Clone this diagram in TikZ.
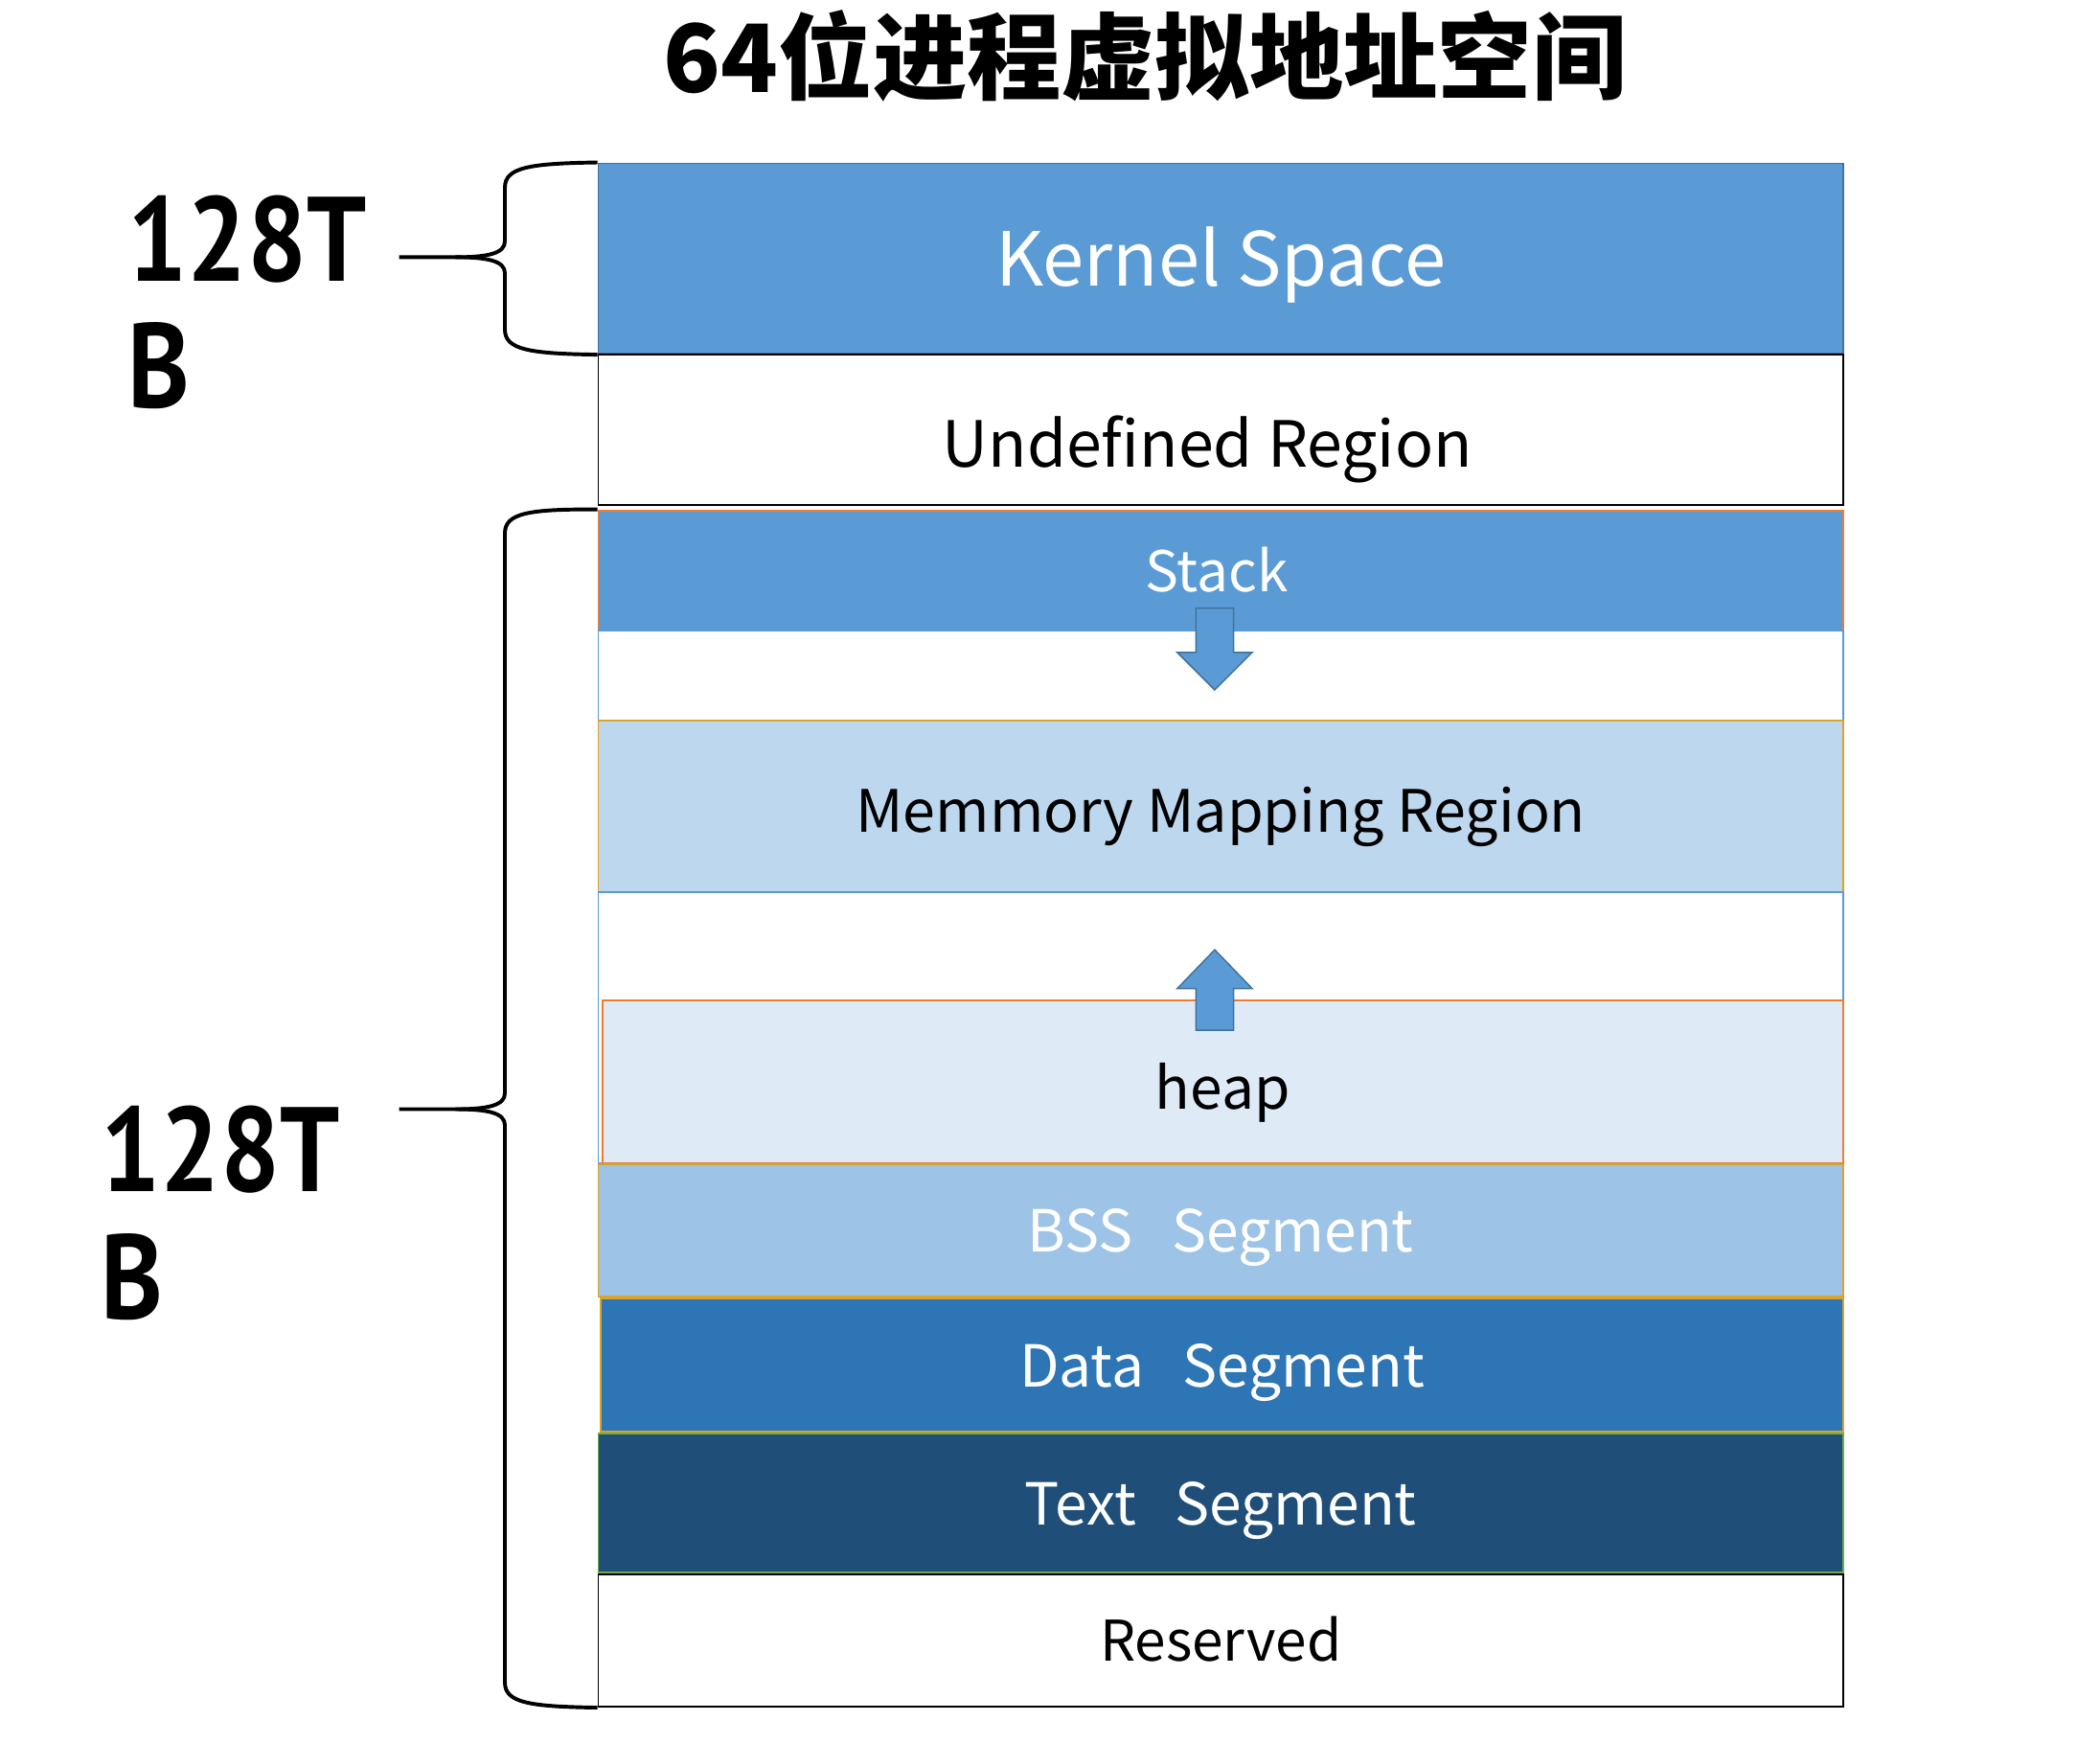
\documentclass[tikz,border=0pt]{standalone}
\usepackage{fontspec}
\setmainfont{Noto Sans CJK SC}
\newfontfamily\labelfont{PT Sans}
\usepackage{tikz}
\usetikzlibrary{shapes,arrows,positioning}

\definecolor{kblue}{HTML}{5B9BD5}
\definecolor{kedge}{HTML}{41719C}
\definecolor{mapblue}{HTML}{BDD7EE}
\definecolor{heapblue}{HTML}{DEEBF7}
\definecolor{bssblue}{HTML}{9DC3E6}
\definecolor{datablue}{HTML}{2E75B6}
\definecolor{textblue}{HTML}{1F4E79}
\definecolor{segorange}{HTML}{ED7D31}
\definecolor{seggold}{HTML}{D9A42B}
\definecolor{seggreen}{HTML}{70AD47}

\begin{document}
\begin{tikzpicture}[x=0.01cm, y=-0.01cm,
    seg/.style={rectangle, minimum width=9.29cm, inner sep=0pt, line width=0.4pt, text depth=0pt},
    blockarrow/.style={draw=kedge, fill=kblue, line width=0.3pt},
    sizelabel/.style={anchor=north west, inner sep=0pt, align=left, transform shape, xscale=0.875,
        font=\labelfont\fontsize{25.5}{27}\selectfont\bfseries},
    brace/.style={line width=0.8pt}]
    \useasboundingbox (0,0) rectangle (1568,1301.9);

    % Title
    \node[font=\fontsize{20}{24}\selectfont\bfseries] (title) at (855,42) {64位进程虚拟地址空间};

    % Address space segments
    \node[seg, draw=kedge, fill=kblue, minimum height=1.42cm, text=white, text height=11.8pt,
        font=\fontsize{15.8}{19}\selectfont] (kernel) at (911.5,193) {Kernel Space};
    \node[seg, draw=black, fill=white, minimum height=1.12cm, text height=15.8pt,
        font=\fontsize{13.5}{16}\selectfont] (undef) at (911.5,321) {Undefined Region\kern0.2cm};
    \node[seg, draw=segorange, fill=kblue, minimum height=0.90cm, text=white, text height=8.9pt,
        font=\fontsize{11.9}{14}\selectfont] (stack) at (911.5,426) {Stack\kern0.06cm};
    \node[seg, draw=kblue, fill=white, minimum height=0.67cm] (gapa) at (911.5,504.5) {};
    \node[seg, draw=seggold, fill=mapblue, minimum height=1.28cm, text height=11pt,
        font=\fontsize{12.4}{15}\selectfont] (mmap) at (911.5,602) {Memmory Mapping Region};
    \node[seg, draw=kblue, fill=white, minimum height=2.02cm] (gapb) at (911.5,767) {};
    \node[seg, draw=segorange, fill=heapblue, minimum height=1.21cm, minimum width=9.26cm,
        text height=11.6pt, font=\fontsize{12.3}{15}\selectfont] (heap) at (913,807.5) {heap};
    \node[seg, draw=seggold, fill=bssblue, minimum height=0.99cm, text=white, text height=9.2pt,
        font=\fontsize{12.3}{15}\selectfont] (bss) at (911.5,918.5) {BSS~~~Segment};
    \node[seg, draw=seggold, fill=datablue, minimum height=1.00cm, minimum width=9.27cm, text=white,
        text height=9.2pt, font=\fontsize{12.3}{15}\selectfont] (data) at (912.5,1019) {Data~~~Segment};
    \node[seg, draw=seggreen, fill=textblue, minimum height=1.04cm, text=white, text height=9.2pt,
        font=\fontsize{12.3}{15}\selectfont] (text) at (911.5,1122) {Text~~~Segment};
    \node[seg, draw=black, fill=white, minimum height=0.99cm, text height=8.9pt,
        font=\fontsize{11.9}{14}\selectfont] (reserved) at (911.5,1224.5) {Reserved};

    % Growth arrows (stack down, heap up)
    \draw[blockarrow] (893,454) -- (921,454) -- (921,487) -- (935,487) -- (907,515)
        -- (879,487) -- (893,487) -- cycle;
    \draw[blockarrow] (893,769) -- (921,769) -- (921,738) -- (935,738) -- (907,709)
        -- (879,738) -- (893,738) -- cycle;

    % Braces
    \draw[brace] (kernel.north west) .. controls (395,122) and (377,125) .. (377,140)
        -- (377,180) .. controls (377,189) and (365,192) .. (340,192) -- (298,192);
    \draw[brace] (kernel.south west) .. controls (395,264) and (377,261) .. (377,246)
        -- (377,204) .. controls (377,195) and (365,192) .. (340,192);
    \draw[brace] (stack.north west) .. controls (395,380) and (377,383) .. (377,398)
        -- (377,816) .. controls (377,825) and (365,828) .. (340,828) -- (298,828);
    \draw[brace] (reserved.south west) .. controls (395,1274) and (377,1271) .. (377,1256)
        -- (377,840) .. controls (377,831) and (365,828) .. (340,828);

    % Size labels
    \node[sizelabel] (upper) at (95,145) {128T\\B};
    \node[sizelabel] (lower) at (75,825) {128T\\B};

\end{tikzpicture}
\end{document}
